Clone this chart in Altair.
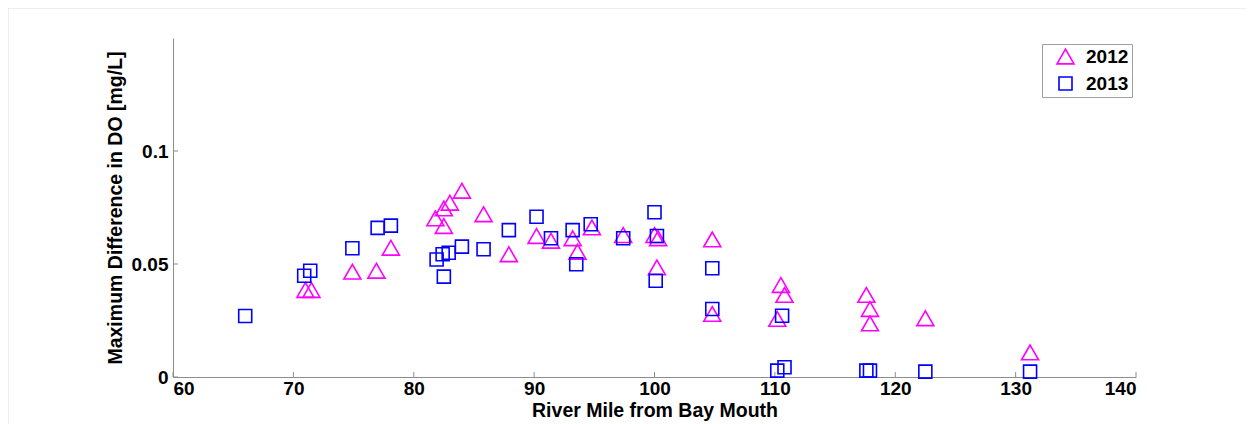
import altair as alt
import pandas as pd

years = ["2012", "2013"]
colors = ["#FF00FF", "#0000FF"]
shapes = ["triangle-up", "square"]

x2012 = [71.0, 71.5, 74.9, 76.9, 78.1, 81.8, 82.5, 83.0, 82.5, 84.0, 85.8, 87.9,
         90.2, 91.4, 93.2, 93.6, 94.8, 97.4, 100.0, 100.3, 100.2, 104.8, 104.8,
         110.5, 110.8, 110.2, 117.6, 117.9, 117.9, 122.5, 131.2]
y2012 = [0.0385, 0.0385, 0.0466, 0.047, 0.0572, 0.0702, 0.0746, 0.0771, 0.0668,
         0.0824, 0.072, 0.0543, 0.0624, 0.0603, 0.0614, 0.0554, 0.0662, 0.0628,
         0.0628, 0.0614, 0.0485, 0.0609, 0.0279, 0.0407, 0.0363, 0.0257, 0.0363,
         0.0301, 0.0237, 0.026, 0.0109]

x2013 = [66.0, 70.9, 71.4, 74.9, 77.0, 78.1, 81.9, 82.4, 82.9, 82.5, 84.0, 85.8,
         87.9, 90.2, 91.4, 93.2, 93.5, 94.7, 97.4, 100.0, 100.2, 100.1, 104.8,
         104.8, 110.6, 110.2, 110.8, 117.6, 117.9, 122.5, 131.2]
y2013 = [0.027, 0.0448, 0.047, 0.057, 0.066, 0.067, 0.052, 0.0543, 0.055, 0.0444,
         0.0577, 0.0565, 0.065, 0.0709, 0.0614, 0.065, 0.0499, 0.0676, 0.0614,
         0.0729, 0.0624, 0.0426, 0.0481, 0.0301, 0.0271, 0.0028, 0.0043, 0.0028,
         0.0028, 0.0024, 0.0024]

x_ticks = [60, 70, 80, 90, 100, 110, 120, 130, 140]
y_ticks = [0, 0.05, 0.1]

df = pd.DataFrame({
    "mile": x2012 + x2013,
    "diff": y2012 + y2013,
    "year": [years[0]] * len(x2012) + [years[1]] * len(x2013),
})

W, H = 963, 339
FONT = "Liberation Sans"
AXIS_COLOR = "#8c8c8c"

xscale = alt.Scale(domain=[60, 140], nice=False, zero=False)
yscale = alt.Scale(domain=[0, 0.15], nice=False, zero=False)

leg = alt.Legend(
    title=None, orient="none", legendX=869, legendY=6,
    fillColor="white", strokeColor="#a0a0a0", padding=3,
    symbolOffset=11, labelOffset=11, rowPadding=5,
    labelFont=FONT, labelFontSize=19, labelFontWeight="bold", labelColor="black",
    symbolStrokeWidth=1.6,
)

points = alt.Chart(df).mark_point(filled=False, strokeWidth=1.6, opacity=1).encode(
    x=alt.X("mile:Q", scale=xscale,
            axis=alt.Axis(values=x_ticks, title="River Mile from Bay Mouth",
                          labelPadding=2, titlePadding=3)),
    y=alt.Y("diff:Q", scale=yscale,
            axis=alt.Axis(values=y_ticks, format="~g",
                          title="Maximum Difference in DO [mg/L]",
                          labelPadding=5, titlePadding=6)),
    color=alt.Color("year:N", scale=alt.Scale(domain=years, range=colors), legend=leg),
    shape=alt.Shape("year:N", scale=alt.Scale(domain=years, range=shapes), legend=leg),
    size=alt.Size("year:N", scale=alt.Scale(domain=years, range=[289, 169]), legend=leg),
)

xt = alt.Chart(pd.DataFrame({"mile": x_ticks})).mark_rule(
    color=AXIS_COLOR, strokeWidth=1).encode(
    x=alt.X("mile:Q", scale=xscale), y=alt.value(H), y2=alt.value(H - 5))

yt = alt.Chart(pd.DataFrame({"diff": y_ticks})).mark_rule(
    color=AXIS_COLOR, strokeWidth=1).encode(
    y=alt.Y("diff:Q", scale=yscale), x=alt.value(0), x2=alt.value(5))

frame_top = alt.Chart(pd.DataFrame({"a": [0]})).mark_rule(
    color="#dedede", strokeWidth=1).encode(
    x=alt.value(-165), x2=alt.value(1090), y=alt.value(-30))
frame_left = alt.Chart(pd.DataFrame({"a": [0]})).mark_rule(
    color="#dedede", strokeWidth=1).encode(
    x=alt.value(-165), y=alt.value(-30), y2=alt.value(H + 47))

chart = alt.layer(frame_top, frame_left, xt, yt, points).properties(
    width=W, height=H,
    autosize=alt.AutoSizeParams(type="none"),
    padding={"left": 165, "top": 30, "right": 110, "bottom": 47},
).configure_view(stroke=None).configure_axis(
    grid=False, ticks=False,
    domainColor=AXIS_COLOR, domainWidth=1,
    labelFont=FONT, labelFontSize=19, labelFontWeight="bold", labelColor="black",
    titleFont=FONT, titleFontSize=19.5, titleFontWeight="bold", titleColor="black",
)

chart.save("out.html", embed_options={"renderer": "svg", "actions": False})
